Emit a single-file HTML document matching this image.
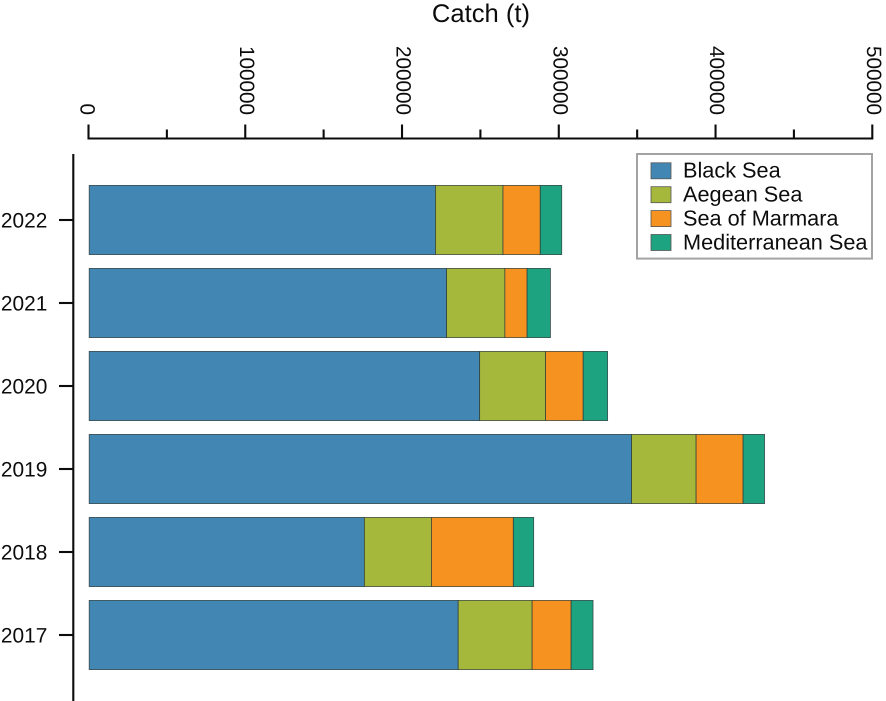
<!DOCTYPE html>
<html lang="en">
<head>
<meta charset="utf-8">
<title>Catch by sea</title>
<style>
html,body{margin:0;padding:0;background:#fff;width:886px;height:701px;overflow:hidden}
svg{display:block}
text{font-family:"Liberation Sans",sans-serif;fill:#0c0c0c;text-rendering:geometricPrecision}
</style>
</head>
<body>
<svg id="chart" xmlns="http://www.w3.org/2000/svg" width="886" height="701" viewBox="0 0 886 701">
  <text x="481" y="22" text-anchor="middle" font-size="25.6">Catch (t)</text>
  <g id="x-axis"></g>
  <g id="y-axis"></g>
  <g id="bars"></g>
  <g id="legend"></g>
</svg>
<script>
const years = [2022, 2021, 2020, 2019, 2018, 2017];
const seriesNames = ['Black Sea', 'Aegean Sea', 'Sea of Marmara', 'Mediterranean Sea'];
const blackSea = [221100, 228200, 249300, 346300, 175700, 235600];
const aegeanSea = [43100, 37200, 42100, 41200, 42800, 47200];
const seaOfMarmara = [23800, 14200, 24000, 30000, 52300, 24900];
const mediterraneanSea = [13700, 14900, 15600, 13700, 13000, 14000];
const seriesColors = ['#4287b3', '#a6b83b', '#f6921f', '#1da380'];
const majorTicks = [0, 100000, 200000, 300000, 400000, 500000];
const minorTicks = [50000, 150000, 250000, 350000, 450000];

const seriesValues = [blackSea, aegeanSea, seaOfMarmara, mediterraneanSea];
const NS = 'http://www.w3.org/2000/svg';
const axisScale = v => 88.5 + v * (872.3 - 88.5) / 500000;
const xScale = v => 89.2 + v * (872.3 - 89.2) / 500000;
const yScale = i => 220 + i * 83;
const BAR_H = 69.2;
const AXIS_Y = 138.5;

function make(tag, parent, attrs, txt) {
  const el = document.createElementNS(NS, tag);
  Object.keys(attrs).forEach(k => el.setAttribute(k, attrs[k]));
  if (txt !== undefined) el.textContent = txt;
  parent.appendChild(el);
  return el;
}

const gx = document.getElementById('x-axis');
const gy = document.getElementById('y-axis');
const gb = document.getElementById('bars');
const gl = document.getElementById('legend');
const axisStroke = {stroke: '#0c0c0c', 'stroke-width': 2.1, fill: 'none'};

const xLine = make('path', gx, Object.assign({d: 'M' + axisScale(0) + ' ' + AXIS_Y + 'H' + axisScale(500000)}, axisStroke));



majorTicks.forEach(v => {
  const x = axisScale(v);
  const t = make('path', gx, Object.assign({d: 'M' + x + ' ' + (AXIS_Y + 1) + 'V124.5'}, axisStroke));
  
  
  const lx = x - (v === 0 ? 8 : 5.4);
  const lab = make('text', gx, {x: lx, y: 115, 'font-size': 20.7, 'text-anchor': 'end', transform: 'rotate(90 ' + lx + ' 115)'}, String(v));
  
  
});
minorTicks.forEach(v => {
  const t = make('path', gx, Object.assign({d: 'M' + axisScale(v) + ' ' + AXIS_Y + 'V129.5'}, axisStroke));
  
  
});

const yLine = make('path', gy, Object.assign({d: 'M73.3 154V701'}, axisStroke));



years.forEach((yr, i) => {
  const y = yScale(i);
  const t = make('path', gy, Object.assign({d: 'M59 ' + y + 'H73'}, axisStroke));
  
  
  const lab = make('text', gy, {x: 47.4, y: y + 7.4, 'font-size': 20.9, 'text-anchor': 'end'}, String(yr));
  
  

  let cum = 0;
  seriesValues.forEach((vals, s) => {
    const x0 = xScale(cum);
    cum += vals[i];
    const x1 = xScale(cum);
    const r = make('rect', gb, {x: x0, y: y - BAR_H / 2, width: x1 - x0, height: BAR_H, fill: seriesColors[s], stroke: '#2b3a3a', 'stroke-width': 0.8, 'stroke-opacity': 0.85});
    
    
  });
});

const box = make('rect', gl, {x: 637, y: 154, width: 235, height: 104.6, fill: '#fff', stroke: '#a3a3a3', 'stroke-width': 2});


seriesNames.forEach((nm, s) => {
  const top = 162.8 + s * 23.9;
  const sw = make('rect', gl, {x: 651, y: top, width: 20, height: 16, fill: seriesColors[s], stroke: '#555', 'stroke-width': 0.8});
  
  
  const lab = make('text', gl, {x: 683, y: top + 14.8, 'font-size': 21.7}, nm);
  
  
});
</script>
</body>
</html>
